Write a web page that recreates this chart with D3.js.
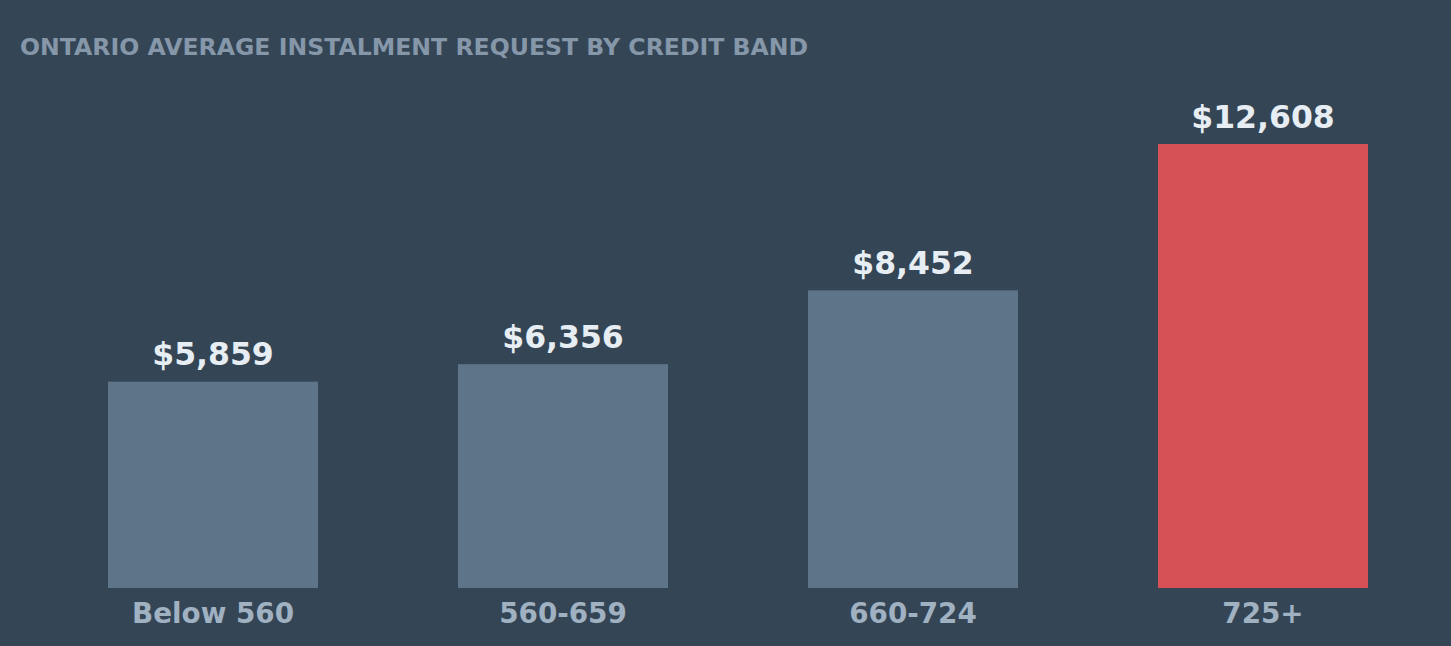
<!DOCTYPE html>
<html>
<head>
<meta charset="utf-8">
<script src="https://cdn.jsdelivr.net/npm/d3@7"></script>
<style>
  html, body { margin: 0; padding: 0; background: #344556; }
  svg { display: block; font-family: "DejaVu Sans", sans-serif; font-weight: bold; }
</style>
</head>
<body>
<svg width="1451" height="646"></svg>
<script>
var bands = ["Below 560", "560-659", "660-724", "725+"];
var amounts = [5859, 6356, 8452, 12608];
var highlight = ["725+"];

var svg = d3.select("svg"),
  width = +svg.attr("width"),
  height = +svg.attr("height");

svg.append("rect").attr("width", width).attr("height", height).attr("fill", "#344556");

// title
svg.append("text")
  .attr("x", 20)
  .attr("y", 55)
  .attr("fill", "#8597a8")
  .attr("font-size", "23.6px")
  .text("ONTARIO AVERAGE INSTALMENT REQUEST BY CREDIT BAND");

var x = d3.scaleBand().domain(bands).range([38, 1438]).paddingInner(0.4).paddingOuter(0.2);
var y = d3.scaleLinear().domain([0, 12608]).range([588, 144]);

var data = bands.map(function (b, i) { return {band: b, value: amounts[i]}; });

svg.append("g")
  .selectAll("rect")
  .data(data)
  .enter()
  .append("rect")
  .attr("x", d => x(d.band))
  .attr("y", d => y(d.value))
  .attr("width", x.bandwidth())
  .attr("height", d => y(0) - y(d.value))
  .attr("fill", d => highlight.indexOf(d.band) >= 0 ? "#d55155" : "#5e7489");

// value labels above bars
svg.append("g")
  .selectAll("text")
  .data(data)
  .enter()
  .append("text")
  .attr("x", d => x(d.band) + x.bandwidth() / 2)
  .attr("y", d => y(d.value) - 16.5)
  .attr("text-anchor", "middle")
  .attr("fill", "#e6edf3")
  .attr("font-size", "31.5px")
  .text(d => "$" + d3.format(",")(d.value));

var axis = svg.append("g")
  .attr("transform", "translate(0,588)")
  .call(d3.axisBottom(x).tickSize(0).tickPadding(15));
axis.select(".domain").remove();
axis.selectAll("text")
  .attr("fill", "#a0b1c1")
  .attr("font-size", "27.8px")
  .attr("font-family", "DejaVu Sans")
  .attr("font-weight", "bold");
</script>
</body>
</html>
